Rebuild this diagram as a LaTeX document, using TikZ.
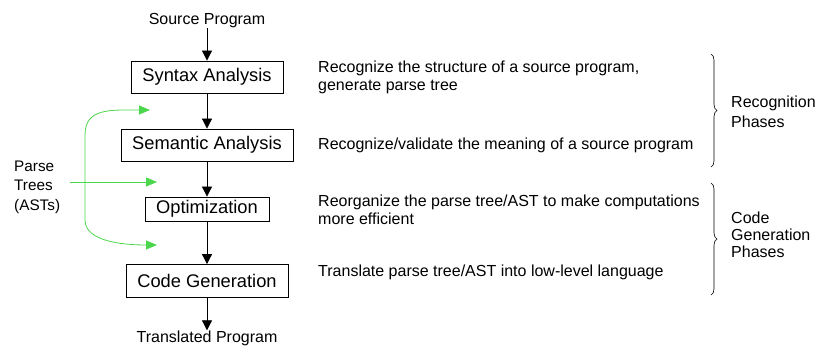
\documentclass[tikz,border=0pt]{standalone}
\usepackage{fontspec}
\setmainfont{Liberation Sans}
\usetikzlibrary{arrows.meta,decorations.pathreplacing}
\begin{document}
\begin{tikzpicture}[x=1pt,y=-1pt,
  phase/.style={draw,line width=0.8pt,minimum height=32pt,inner xsep=0pt,font=\fontsize{18.3}{20}\selectfont},
  desc/.style={anchor=west,inner sep=0pt,align=left,font=\fontsize{16}{18}\selectfont},
  io/.style={inner sep=0pt,font=\fontsize{16}{18}\selectfont},
  flow/.style={-{Triangle[length=10pt,width=10pt]},line width=0.8pt},
  gflow/.style={{Triangle[length=11pt,width=9pt]}-{Triangle[length=11pt,width=9pt]},line width=0.8pt,draw=grn},
  brace/.style={decorate,decoration={brace,amplitude=6pt},line width=0.6pt}]
\definecolor{grn}{RGB}{76,214,76}
\useasboundingbox (0,0) rectangle (818,347);
\node[io] (src) at (207,21) {Source Program};
\node[phase,minimum width=152pt] (syn) at (207,77) {Syntax Analysis};
\node[phase,minimum width=172pt] (sem) at (207,145) {Semantic Analysis};
\node[phase,minimum width=124pt,minimum height=24pt] (opt) at (207,209) {Optimization};
\node[phase,minimum width=162pt,minimum height=33pt] (cg) at (207,281) {Code Generation};
\node[io] (tgt) at (207,338) {Translated Program};
\draw[flow] (src) -- (syn);
\draw[flow] (syn) -- (sem);
\draw[flow] (sem) -- (opt);
\draw[flow] (opt) -- (cg);
\draw[flow] (cg) -- (tgt);
\coordinate (g1) at (150,110);
\coordinate (g2) at (157,182);
\coordinate (g3) at (157,245);
\coordinate (g0) at (70,182);
\node[io,align=left,anchor=west,font=\fontsize{15.3}{19.5}\selectfont] (pt) at (14,187) {Parse\\Trees\\(ASTs)};
\draw[-{Triangle[length=11pt,width=9pt]},line width=0.8pt,draw=grn] (g0) -- (g2);
\draw[gflow] (g1) .. controls (110,110) and (85,108) .. (85,135) -- (85,220) .. controls (85,242) and (125,245) .. (g3);
\node[desc] (d1) at (318,77) {Recognize the structure of a source program,\\generate parse tree};
\node[desc] (d2) at (318,145) {Recognize/validate the meaning of a source program};
\node[desc] (d3) at (318,210) {Reorganize the parse tree/AST to make computations\\more efficient};
\node[desc] (d4) at (318,272) {Translate parse tree/AST into low-level language};
\coordinate (b1t) at (711,54);
\coordinate (b1b) at (711,167);
\coordinate (b2t) at (711,183);
\coordinate (b2b) at (711,295);
\draw[brace] (b1t) -- (b1b);
\draw[brace] (b2t) -- (b2b);
\node[desc,font=\fontsize{16}{20}\selectfont] (rp) at (731,112) {Recognition\\Phases};
\node[desc,font=\fontsize{16}{17}\selectfont] (cgp) at (731,235) {Code\\Generation\\Phases};
\end{tikzpicture}
\end{document}
